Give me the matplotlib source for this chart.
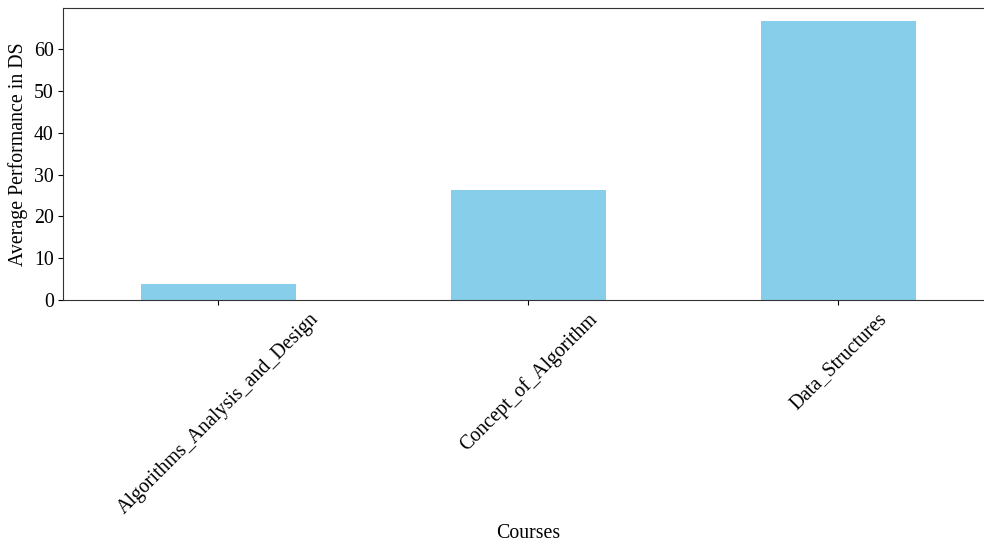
import matplotlib
matplotlib.use("Agg")
import matplotlib.pyplot as plt
from matplotlib.ticker import MultipleLocator
import numpy as np

plt.rcParams['font.family'] = ['Liberation Serif', 'DejaVu Serif']

courses = ['Algorithms_Analysis_and_Design', 'Concept_of_Algorithm', 'Data_Structures']
avg_perf = [3.8, 26.4, 66.7]

fig = plt.figure(figsize=(9.84, 5.43), dpi=100)
# axes runs a little past the right edge, like the cropped original
ax = fig.add_axes([0.0645, 0.4475, 0.945, 0.538])

x = np.arange(len(courses))
ax.bar(x, avg_perf, width=0.5, color='skyblue')
ax.set_xlim(-0.5, len(courses) - 0.5)
ax.set_ylim(0, 69.9)
ax.set_xticks(x)
ax.set_xticklabels(courses, rotation=45, fontsize=14.3)
ax.yaxis.set_major_locator(MultipleLocator(10))
ax.tick_params(axis='y', labelsize=14.3)
for s in ax.spines.values():
    s.set_color('#333333')
ax.set_xlabel('Courses', fontsize=14.3)
ax.set_ylabel('Average Performance in DS', fontsize=14.3)

fig.savefig('out.png', dpi=100)
